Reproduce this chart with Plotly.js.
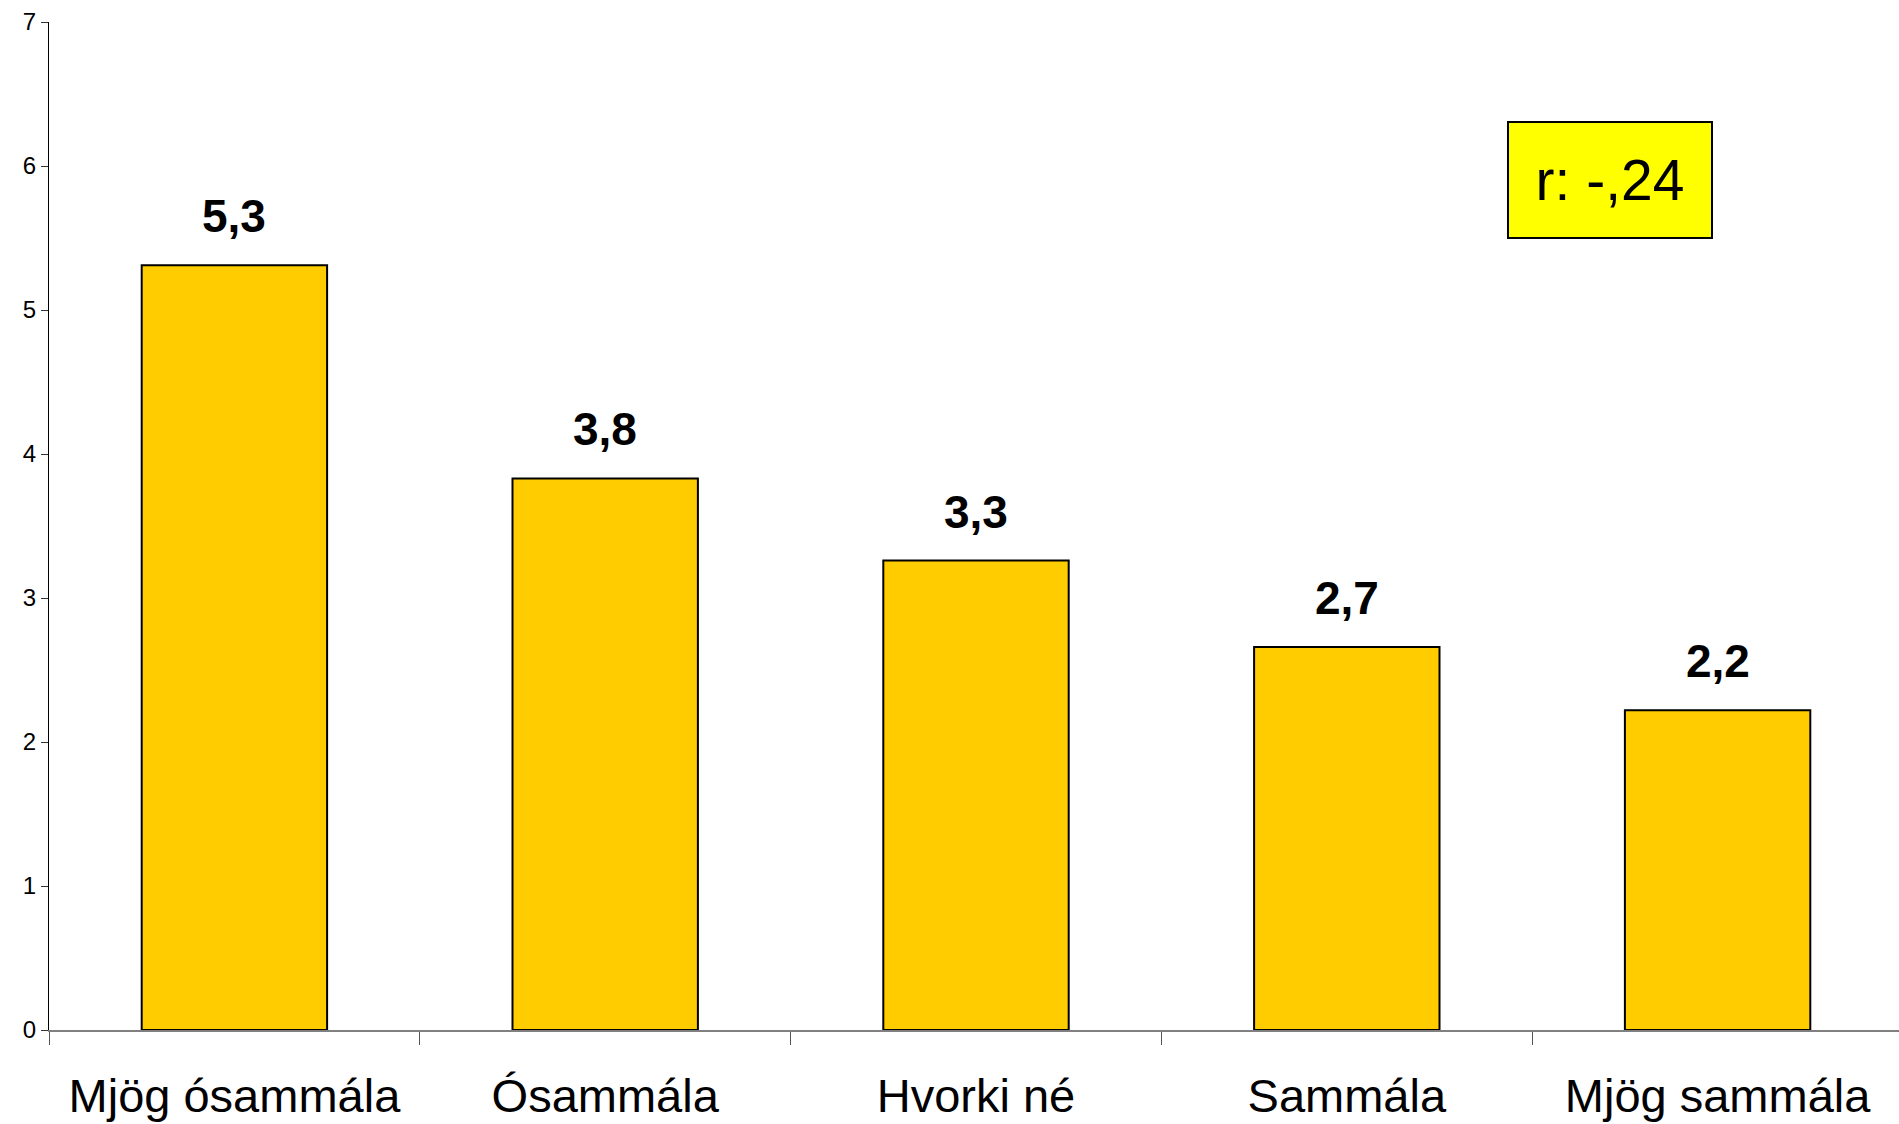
<!DOCTYPE html>
<html>
<head>
<meta charset="utf-8">
<script src="https://cdn.plot.ly/plotly-3.0.1.min.js"></script>
<style>html,body{margin:0;padding:0;background:#fff;overflow:hidden;}#chart{width:1903px;height:1124px;}</style>
</head>
<body>
<div id="chart"></div>
<script>
var categories = ["Mjög ósammála", "Ósammála", "Hvorki né", "Sammála", "Mjög sammála"];
var values = [5.31, 3.83, 3.26, 2.66, 2.22];
var valueLabels = ["5,3", "3,8", "3,3", "2,7", "2,2"];
var yTicks = [0, 1, 2, 3, 4, 5, 6, 7];
var corrText = "r: -,24";

var FONT = "Liberation Sans, Arial, sans-serif";

var trace = {
  type: "bar",
  x: categories,
  y: values,
  marker: {color: "#FFCC00", line: {color: "#000000", width: 2}},
  hoverinfo: "skip"
};

var annotations = categories.map(function (c, i) {
  return {
    x: c, y: values[i], xref: "x", yref: "y",
    text: "<b>" + valueLabels[i] + "</b>",
    showarrow: false, yanchor: "bottom", yshift: 21,
    font: {family: FONT, size: 46, color: "#000"}
  };
});
annotations.push({
  x: 3.71, y: 5.9, xref: "x", yref: "y",
  text: corrText, showarrow: false,
  font: {family: FONT, size: 57, color: "#000"},
  bgcolor: "#FFFF00", bordercolor: "#000", borderwidth: 2,
  width: 200, height: 112, xanchor: "center", yanchor: "middle"
});

var layout = {
  width: 1903, height: 1124,
  margin: {l: 49, r: 0, t: 22, b: 94, pad: 0},
  paper_bgcolor: "#fff", plot_bgcolor: "#fff",
  showlegend: false,
  bargap: 0.5,
  xaxis: {
    type: "category",
    showline: true, linecolor: "#808080", linewidth: 1.5,
    ticks: "outside", tickson: "boundaries", ticklen: 13, tickcolor: "#555", tickwidth: 1,
    ticklabelstandoff: 24,
    tickfont: {family: FONT, size: 47, color: "#000"},
    showgrid: false, zeroline: false, fixedrange: true
  },
  yaxis: {
    range: [0, 7], tickvals: yTicks, ticktext: yTicks.map(String),
    showline: true, linecolor: "#000", linewidth: 1,
    ticks: "outside", ticklen: 7, tickcolor: "#333", tickwidth: 1,
    tickfont: {family: FONT, size: 24, color: "#000"},
    showgrid: false, zeroline: false, fixedrange: true
  },
  annotations: annotations
};

Plotly.newPlot("chart", [trace], layout, {staticPlot: true, displayModeBar: false});
</script>
</body>
</html>
